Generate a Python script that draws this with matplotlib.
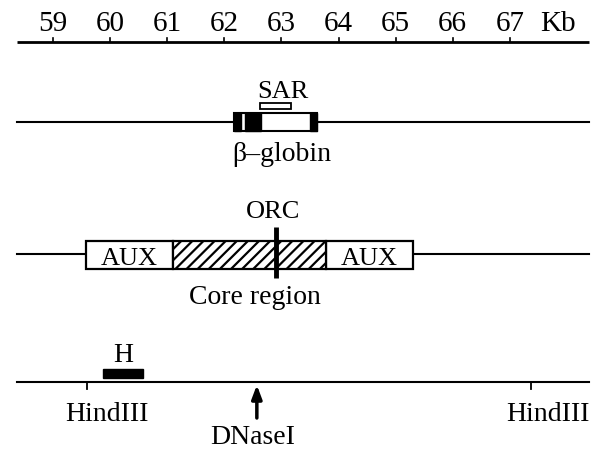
import matplotlib
matplotlib.use('Agg')
import matplotlib.pyplot as plt
from matplotlib.patches import Rectangle

plt.rcParams['font.family'] = ['Liberation Serif', 'DejaVu Serif']
plt.rcParams['hatch.linewidth'] = 1.6

# scale in kb
ticks_kb = [59, 60, 61, 62, 63, 64, 65, 66, 67]
tick_labels = ['59', '60', '61', '62', '63', '64', '65', '66', '67']
line_start, line_end = 58.37, 68.39

# beta-globin gene and SAR
globin_box = (62.17, 63.63)
globin_black = [(62.17, 62.29), (62.37, 62.64), (63.50, 63.63)]
sar_box = (62.63, 63.17)

# replicator: AUX / core / AUX, ORC site
aux_left = (59.58, 61.10)
core = (61.10, 63.78)
aux_right = (63.78, 65.30)
orc_kb = 62.91

# restriction map
hind_sites = [59.60, 67.37]
h_probe = (59.88, 60.58)
dnase_kb = 62.57

# pixel scale: x = 53 + (kb - 59) * 57.1
kb_left = 59 - 53 / 57.1
kb_right = 59 + (601 - 53) / 57.1

fig = plt.figure(figsize=(6.01, 4.52), dpi=100)
ax = fig.add_axes([0, 0, 1, 1])
ax.set_xlim(kb_left, kb_right)
ax.set_ylim(452, 0)
ax.axis('off')

fs = 20

# --- top scale
ax.plot([line_start, line_end], [43, 43], color='black', lw=2.0, solid_capstyle='butt')
for k, lab in zip(ticks_kb, tick_labels):
    ax.plot([k, k], [43, 39], color='black', lw=1.2)
    ax.text(k, 31, lab, ha='center', va='baseline', fontsize=21)
ax.text(67.84, 31, 'Kb', ha='center', va='baseline', fontsize=21)

# --- beta-globin row
y1 = 123
ax.plot([line_start, line_end], [y1, y1], color='black', lw=1.5)
ax.add_patch(Rectangle((globin_box[0], 114), globin_box[1] - globin_box[0], 18,
                       facecolor='white', edgecolor='black', lw=1.5, zorder=3))
for a, b in globin_black:
    ax.add_patch(Rectangle((a, 114), b - a, 18, facecolor='black',
                           edgecolor='black', lw=1.0, zorder=4))
ax.add_patch(Rectangle((sar_box[0], 104), sar_box[1] - sar_box[0], 6,
                       facecolor='white', edgecolor='black', lw=1.3, zorder=3))
ax.text(63.03, 98, 'SAR', ha='center', va='baseline', fontsize=19)
ax.text(63.01, 161, 'β–globin', ha='center', va='baseline', fontsize=fs)

# --- replicator row
y2 = 255
ax.plot([line_start, line_end], [y2, y2], color='black', lw=1.5)
for seg in (aux_left, aux_right):
    ax.add_patch(Rectangle((seg[0], 242), seg[1] - seg[0], 28, facecolor='white',
                           edgecolor='black', lw=1.6, zorder=3))
    ax.text((seg[0] + seg[1]) / 2, 265, 'AUX', ha='center', va='baseline',
            fontsize=19, zorder=5)
ax.add_patch(Rectangle((core[0], 242), core[1] - core[0], 28, facecolor='white',
                       edgecolor='black', hatch='///', lw=1.6, zorder=3))
ax.plot([orc_kb, orc_kb], [228, 279], color='black', lw=3.5, zorder=5,
        solid_capstyle='butt')
ax.text(62.85, 218, 'ORC', ha='center', va='baseline', fontsize=19)
ax.text(62.54, 304, 'Core region', ha='center', va='baseline', fontsize=fs)

# --- restriction map row
y3 = 383
ax.plot([line_start, line_end], [y3, y3], color='black', lw=1.5)
for s in hind_sites:
    ax.plot([s, s], [y3, 390], color='black', lw=1.3)
ax.text(59.95, 421, 'HindIII', ha='center', va='baseline', fontsize=fs)
ax.text(67.67, 421, 'HindIII', ha='center', va='baseline', fontsize=fs)
ax.add_patch(Rectangle((h_probe[0], 370), h_probe[1] - h_probe[0], 9,
                       facecolor='black', edgecolor='black', lw=1.0))
ax.text(60.23, 362, 'H', ha='center', va='baseline', fontsize=fs)
ax.annotate('', xy=(dnase_kb, 386), xytext=(dnase_kb, 419),
            arrowprops=dict(arrowstyle='-|>,head_width=0.3,head_length=0.8',
                            color='black', lw=2.5, shrinkA=0, shrinkB=0))
ax.text(62.49, 444, 'DNaseI', ha='center', va='baseline', fontsize=fs)

fig.savefig('out.png', dpi=100)
